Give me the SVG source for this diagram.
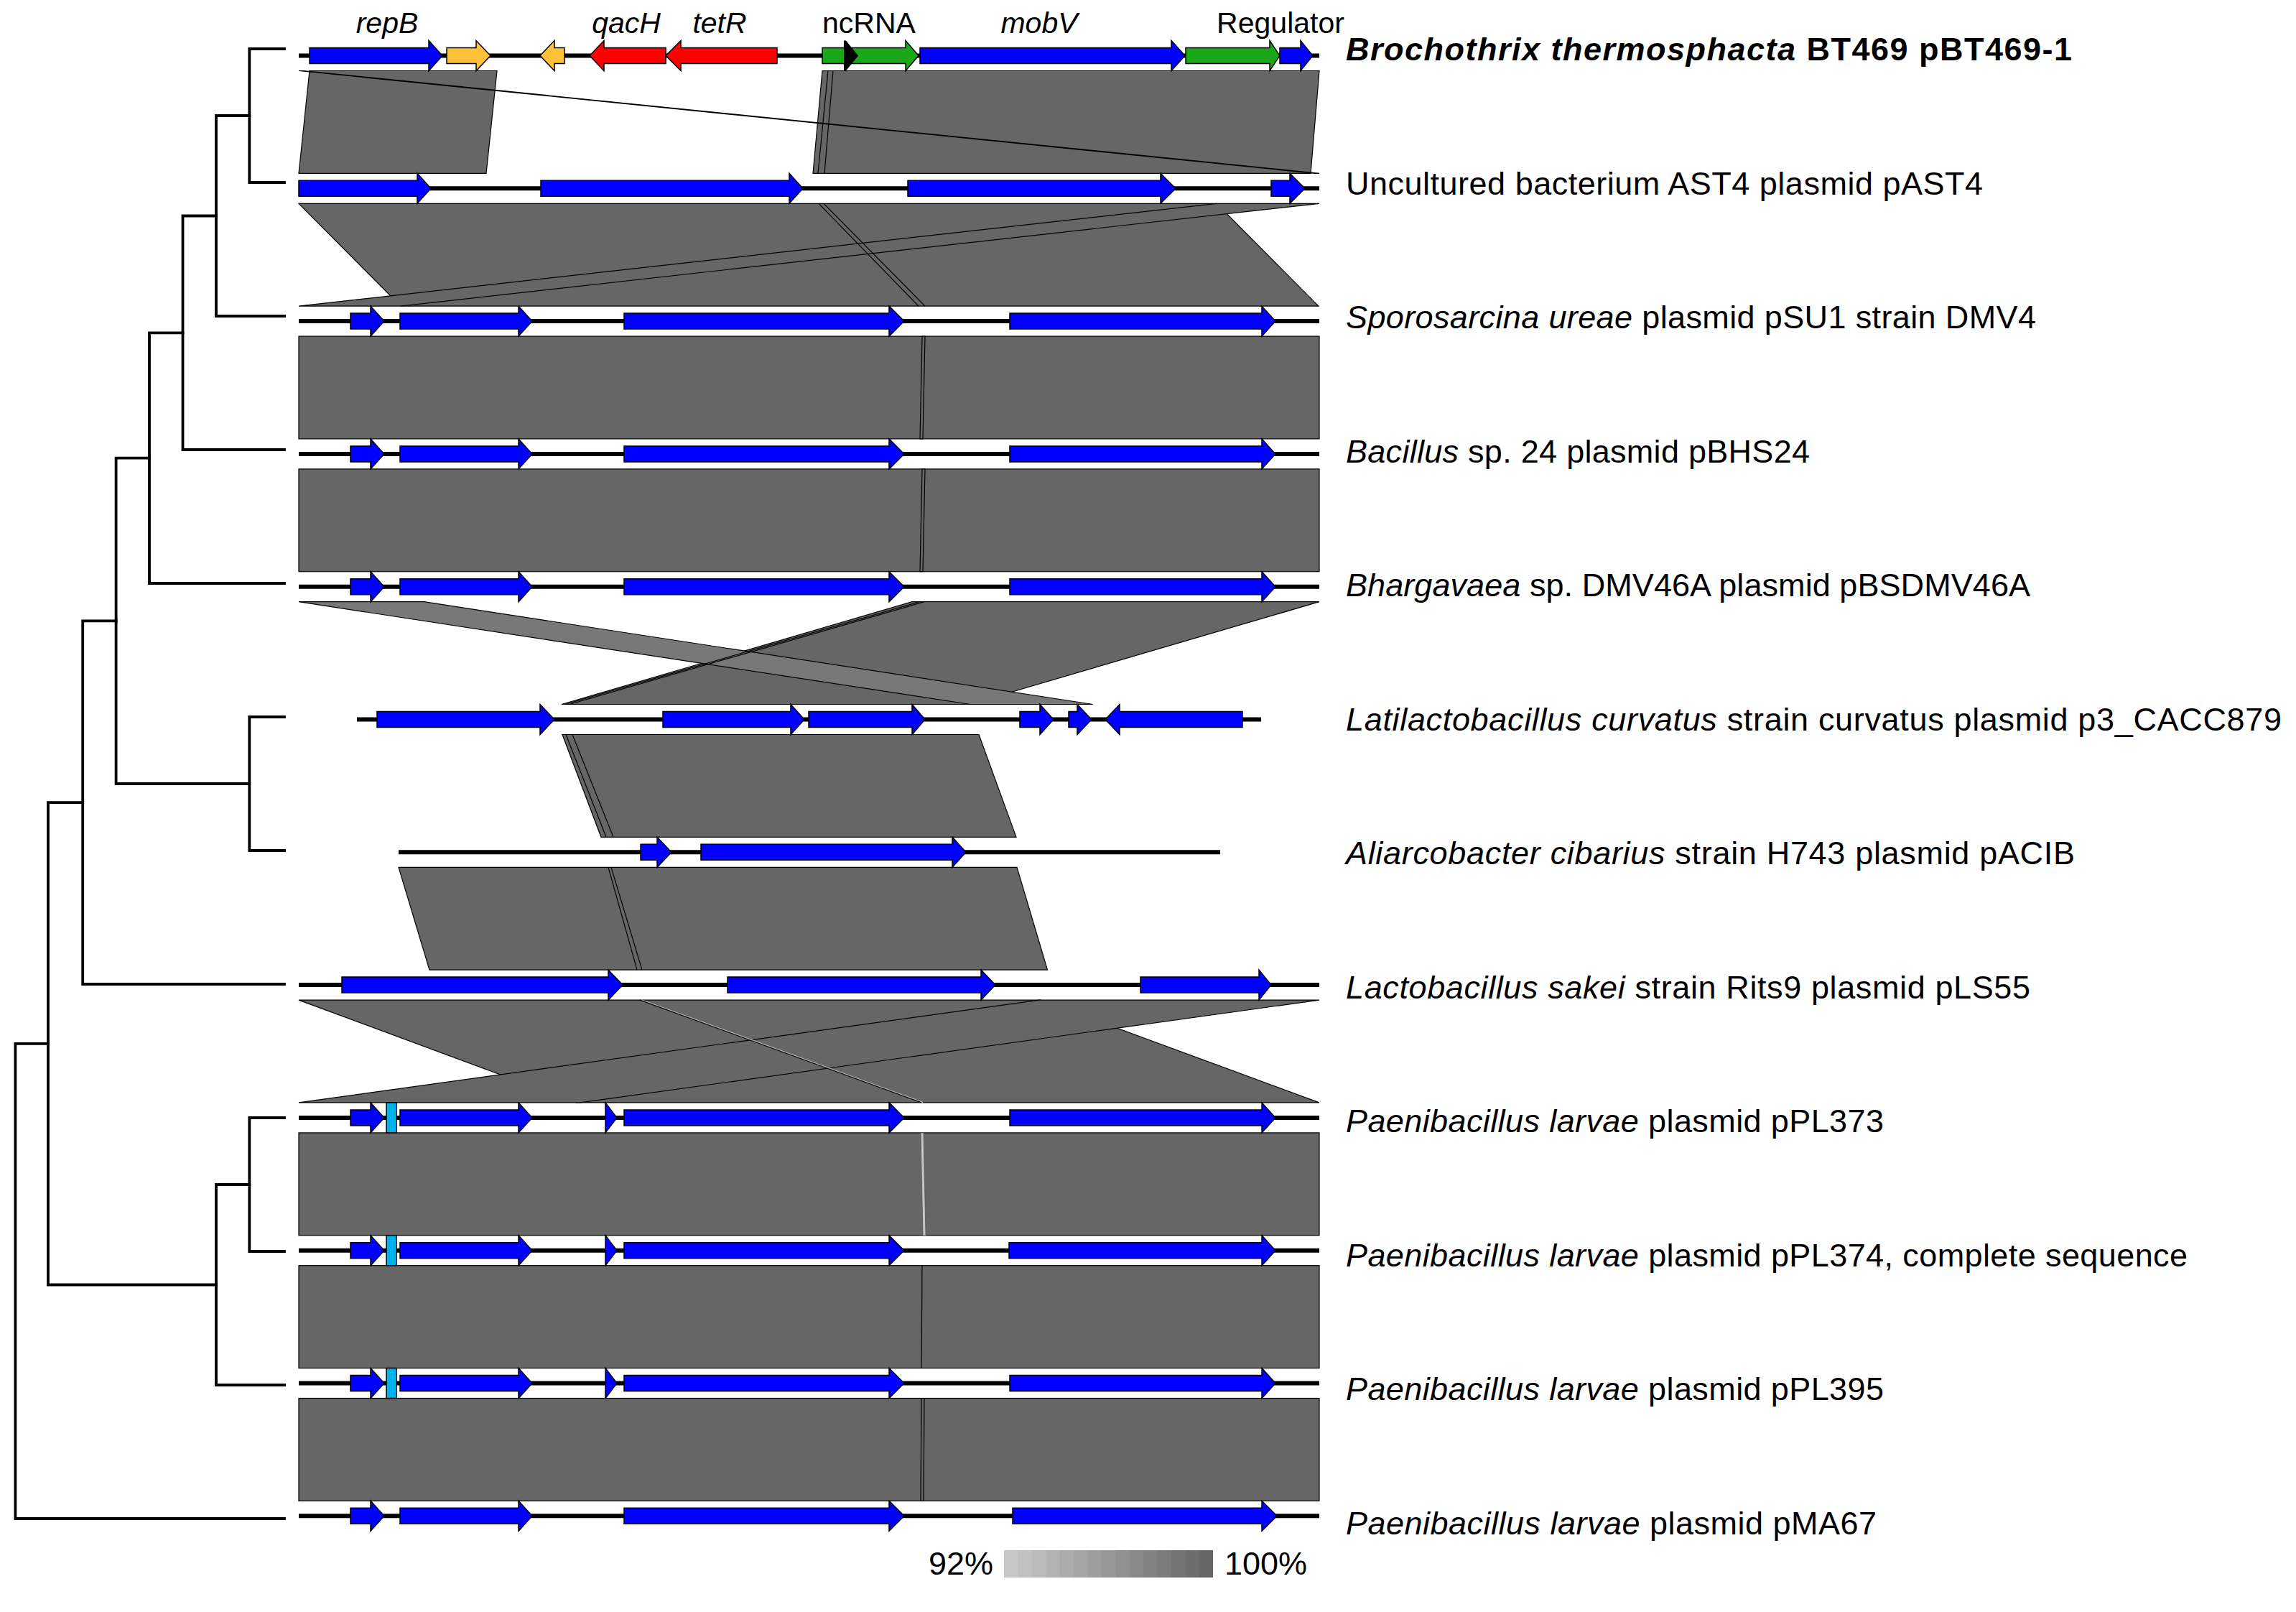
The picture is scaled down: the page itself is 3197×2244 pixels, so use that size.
<svg xmlns="http://www.w3.org/2000/svg" width="3197" height="2244" viewBox="0 0 3197 2244">
<style>
.tree{fill:none;stroke:#000;stroke-width:3.8;stroke-linecap:square}
.bb{stroke:#000;stroke-width:6}
.g{stroke:#000;stroke-width:1.5}
.b{fill:#0000FF}.o{fill:#FFC13B}.r{fill:#FF0000}.gr{fill:#1AA81A}.k{fill:#000}.c{fill:#00B2EE}
.band{fill:#666;stroke:#000;stroke-width:1.2}
.lband{fill:#787878;stroke:#000;stroke-width:1.2}
.ln{fill:none;stroke:#000;stroke-width:1.2}
.lbl{font-family:"Liberation Sans",Arial,sans-serif;font-size:45px;fill:#000}
.top{font-family:"Liberation Sans",Arial,sans-serif;font-size:41px;fill:#000;text-anchor:middle}
.it{font-style:italic}
</style>
<rect width="3197" height="2244" fill="#fff"/>

<g id="tree" class="tree">
<path d="M347.3 68V254M347.3 68H396M347.3 254H396"/>
<path d="M301 161V440M301 161H347.3M301 440H396"/>
<path d="M254.5 300.5V626M254.5 300.5H301M254.5 626H396"/>
<path d="M208 463.3V812M208 463.3H254.5M208 812H396"/>
<path d="M347.3 998V1184M347.3 998H396M347.3 1184H396"/>
<path d="M161.6 637.6V1091M161.6 637.6H208M161.6 1091H347.3"/>
<path d="M115.2 864.3V1370M115.2 864.3H161.6M115.2 1370H396"/>
<path d="M347.3 1556V1742M347.3 1556H396M347.3 1742H396"/>
<path d="M301 1649V1928M301 1649H347.3M301 1928H396"/>
<path d="M67 1117.2V1788.5M67 1117.2H115.2M67 1788.5H301"/>
<path d="M21.4 1452.8V2114M21.4 1452.8H67M21.4 2114H396"/>
</g>

<g id="connectors">
<!-- band 0-1 -->
<polygon class="band" points="431,98.5 692,98.5 677,241.3 416,241.3"/>
<polygon class="band" points="1145,98.5 1837,98.5 1825,241.3 1132,241.3"/>
<path class="ln" d="M1153 98.5L1139 241.3M1160 98.5L1148 241.3"/>
<polygon class="band" points="416,98.5 423,98.5 1837,241.3 1830,241.3"/>
<!-- band 1-2 -->
<polygon class="band" points="416,283.3 1694,283.3 1836,426.1 558,426.1"/>
<polygon class="band" points="1694,283.3 1837,283.3 558,426.1 416,426.1"/>
<path class="ln" d="M1140 283.3L1279 426.1M1147 283.3L1288 426.1"/>
<!-- band 2-3 -->
<rect class="band" x="416" y="468.1" width="1421" height="142.8"/>
<polygon class="band" points="1284,468.1 1288,468.1 1285,610.9 1281,610.9"/>
<!-- band 3-4 -->
<rect class="band" x="416" y="652.9" width="1421" height="142.8"/>
<polygon class="band" points="1284,652.9 1288,652.9 1285,795.7 1281,795.7"/>
<!-- band 4-5 -->
<polygon class="band" points="1270,837.7 1837,837.7 1350,980.5 782,980.5"/>
<polygon class="lband" points="416,837.7 590.5,837.7 1521.6,980.5 1351,980.5"/>
<path class="ln" d="M1280 837.7L787 980.5M1287 837.7L793 980.5"/>
<!-- band 5-6 -->
<polygon class="band" points="783,1022.5 1363,1022.5 1415,1165.3 837,1165.3"/>
<path class="ln" d="M788 1022.5L844 1165.3M797 1022.5L854 1165.3"/>
<!-- band 6-7 -->
<polygon class="band" points="555,1207.3 1416,1207.3 1458.5,1350.1 598,1350.1"/>
<path class="ln" d="M847 1207.3L887 1350.1M851 1207.3L894 1350.1"/>
<!-- band 7-8 -->
<polygon class="band" points="416,1392.1 1449,1392.1 1837,1534.9 802,1534.9"/>
<polygon class="band" points="1447,1392.1 1837,1392.1 808,1534.9 416,1534.9"/>
<path d="M893 1392.1L1285 1534.9" fill="none" stroke="#bbb" stroke-width="2"/>
<path class="ln" d="M891 1392.1L1283 1534.9"/>
<!-- band 8-9 -->
<rect class="band" x="416" y="1576.9" width="1421" height="142.8"/>
<polygon points="1282,1576.9 1286,1576.9 1289,1719.7 1285,1719.7" fill="#c4c4c4" stroke="#555" stroke-width="0.8"/>
<!-- band 9-10 -->
<rect class="band" x="416" y="1761.7" width="1421" height="142.8"/>
<path class="ln" d="M1284 1761.7L1283 1904.5"/>
<!-- band 10-11 -->
<rect class="band" x="416" y="1946.5" width="1421" height="142.8"/>
<polygon class="band" points="1283,1946.5 1287,1946.5 1286,2089.3 1282,2089.3"/>
</g>

<g id="track-0" transform="translate(0,77.5)">
<line class="bb" x1="416" y1="0" x2="1837" y2="0"/>
<path class="g b" d="M431 -11H597V-21L616 0L597 21V11H431Z"/>
<path class="g o" d="M622 -11H663V-21L683 0L663 21V11H622Z"/>
<path class="g o" d="M786 -11H772V-21L752 0L772 21V11H786Z"/>
<path class="g r" d="M927 -11H841V-21L821 0L841 21V11H927Z"/>
<path class="g r" d="M1082 -11H948V-21L927 0L948 21V11H1082Z"/>
<path class="g gr" d="M1145 -11H1261V-21L1279 0L1261 21V11H1145Z"/>
<path class="k" d="M1175 -21H1178L1195 0L1178 21H1175Z"/>
<path class="g b" d="M1281 -11H1631V-21L1650 0L1631 21V11H1281Z"/>
<path class="g gr" d="M1651 -11H1768V-21L1782 0L1768 21V11H1651Z"/>
<path class="g b" d="M1782 -11H1811V-21L1828 0L1811 21V11H1782Z"/>
</g>
<g id="gene-labels">
<text class="top it" x="539" y="46">repB</text>
<text class="top it" x="872" y="46">qacH</text>
<text class="top it" x="1002" y="46">tetR</text>
<text class="top" x="1210" y="46">ncRNA</text>
<text class="top it" x="1447" y="46">mobV</text>
<text class="top" x="1783" y="46">Regulator</text>
</g>

<g id="track-1" transform="translate(0,262.3)">
<line class="bb" x1="416" y1="0" x2="1837" y2="0"/>
<path class="g b" d="M416 -11H581V-21L600 0L581 21V11H416Z"/>
<path class="g b" d="M753 -11H1099V-21L1118 0L1099 21V11H753Z"/>
<path class="g b" d="M1264 -11H1616V-21L1637 0L1616 21V11H1264Z"/>
<path class="g b" d="M1770 -11H1796V-21L1817 0L1796 21V11H1770Z"/>
</g>

<g id="track-2" transform="translate(0,447.1)">
<line class="bb" x1="416" y1="0" x2="1837" y2="0"/>
<path class="g b" d="M488 -11H516V-21L535 0L516 21V11H488Z"/>
<path class="g b" d="M557 -11H722V-21L741 0L722 21V11H557Z"/>
<path class="g b" d="M869 -11H1238V-21L1259 0L1238 21V11H869Z"/>
<path class="g b" d="M1406 -11H1757V-21L1776 0L1757 21V11H1406Z"/>
</g>
<g id="track-3" transform="translate(0,631.9)">
<line class="bb" x1="416" y1="0" x2="1837" y2="0"/>
<path class="g b" d="M488 -11H516V-21L535 0L516 21V11H488Z"/>
<path class="g b" d="M557 -11H722V-21L741 0L722 21V11H557Z"/>
<path class="g b" d="M869 -11H1238V-21L1259 0L1238 21V11H869Z"/>
<path class="g b" d="M1406 -11H1757V-21L1776 0L1757 21V11H1406Z"/>
</g>
<g id="track-4" transform="translate(0,816.7)">
<line class="bb" x1="416" y1="0" x2="1837" y2="0"/>
<path class="g b" d="M488 -11H516V-21L535 0L516 21V11H488Z"/>
<path class="g b" d="M557 -11H722V-21L741 0L722 21V11H557Z"/>
<path class="g b" d="M869 -11H1238V-21L1259 0L1238 21V11H869Z"/>
<path class="g b" d="M1406 -11H1757V-21L1776 0L1757 21V11H1406Z"/>
</g>
<g id="track-5" transform="translate(0,1001.5)">
<line class="bb" x1="497" y1="0" x2="1756" y2="0"/>
<path class="g b" d="M525 -11H752V-21L772 0L752 21V11H525Z"/>
<path class="g b" d="M923 -11H1101V-21L1120 0L1101 21V11H923Z"/>
<path class="g b" d="M1126 -11H1270V-21L1288 0L1270 21V11H1126Z"/>
<path class="g b" d="M1420 -11H1448V-21L1467 0L1448 21V11H1420Z"/>
<path class="g b" d="M1488 -11H1500V-21L1520 0L1500 21V11H1488Z"/>
<path class="g b" d="M1730 -11H1559V-21L1539 0L1559 21V11H1730Z"/>
</g>
<g id="track-6" transform="translate(0,1186.3)">
<line class="bb" x1="555" y1="0" x2="1699" y2="0"/>
<path class="g b" d="M892 -11H915V-21L935 0L915 21V11H892Z"/>
<path class="g b" d="M976 -11H1326V-21L1345 0L1326 21V11H976Z"/>
</g>
<g id="track-7" transform="translate(0,1371.1)">
<line class="bb" x1="416" y1="0" x2="1837" y2="0"/>
<path class="g b" d="M476 -11H847V-21L867 0L847 21V11H476Z"/>
<path class="g b" d="M1013 -11H1366V-21L1386 0L1366 21V11H1013Z"/>
<path class="g b" d="M1588 -11H1753V-21L1770 0L1753 21V11H1588Z"/>
</g>
<g id="track-8" transform="translate(0,1555.9)">
<line class="bb" x1="416" y1="0" x2="1837" y2="0"/>
<path class="g b" d="M488 -11H516V-21L535 0L516 21V11H488Z"/>
<rect class="g c" x="538" y="-21" width="14" height="42"/>
<path class="g b" d="M557 -11H722V-21L741 0L722 21V11H557Z"/>
<path class="g b" d="M843 -21L859 0L843 21Z"/>
<path class="g b" d="M869 -11H1238V-21L1259 0L1238 21V11H869Z"/>
<path class="g b" d="M1406 -11H1757V-21L1776 0L1757 21V11H1406Z"/>
</g>
<g id="track-9" transform="translate(0,1740.7)">
<line class="bb" x1="416" y1="0" x2="1837" y2="0"/>
<path class="g b" d="M488 -11H516V-21L535 0L516 21V11H488Z"/>
<rect class="g c" x="538" y="-21" width="14" height="42"/>
<path class="g b" d="M557 -11H722V-21L741 0L722 21V11H557Z"/>
<path class="g b" d="M843 -21L859 0L843 21Z"/>
<path class="g b" d="M869 -11H1238V-21L1259 0L1238 21V11H869Z"/>
<path class="g b" d="M1405 -11H1757V-21L1776 0L1757 21V11H1405Z"/>
</g>
<g id="track-10" transform="translate(0,1925.5)">
<line class="bb" x1="416" y1="0" x2="1837" y2="0"/>
<path class="g b" d="M488 -11H516V-21L535 0L516 21V11H488Z"/>
<rect class="g c" x="538" y="-21" width="14" height="42"/>
<path class="g b" d="M557 -11H722V-21L741 0L722 21V11H557Z"/>
<path class="g b" d="M843 -21L859 0L843 21Z"/>
<path class="g b" d="M869 -11H1238V-21L1259 0L1238 21V11H869Z"/>
<path class="g b" d="M1406 -11H1757V-21L1776 0L1757 21V11H1406Z"/>
</g>
<g id="track-11" transform="translate(0,2110.3)">
<line class="bb" x1="416" y1="0" x2="1837" y2="0"/>
<path class="g b" d="M488 -11H516V-21L535 0L516 21V11H488Z"/>
<path class="g b" d="M557 -11H722V-21L741 0L722 21V11H557Z"/>
<path class="g b" d="M869 -11H1238V-21L1259 0L1238 21V11H869Z"/>
<path class="g b" d="M1410 -11H1757V-21L1778 0L1757 21V11H1410Z"/>
</g>

<g id="labels" class="lbl">
<text x="1874" y="84" font-weight="bold" textLength="1011" lengthAdjust="spacing"><tspan class="it">Brochothrix thermosphacta</tspan> BT469 pBT469-1</text>
<text x="1874" y="270.5" textLength="887" lengthAdjust="spacing">Uncultured bacterium AST4 plasmid pAST4</text>
<text x="1874" y="457" textLength="961" lengthAdjust="spacing"><tspan class="it">Sporosarcina ureae</tspan> plasmid pSU1 strain DMV4</text>
<text x="1874" y="643.5" textLength="646" lengthAdjust="spacing"><tspan class="it">Bacillus</tspan> sp. 24 plasmid pBHS24</text>
<text x="1874" y="830" textLength="953" lengthAdjust="spacing"><tspan class="it">Bhargavaea</tspan> sp. DMV46A plasmid pBSDMV46A</text>
<text x="1874" y="1016.5" textLength="1303" lengthAdjust="spacing"><tspan class="it">Latilactobacillus curvatus</tspan> strain curvatus plasmid p3_CACC879</text>
<text x="1874" y="1203" textLength="1015" lengthAdjust="spacing"><tspan class="it">Aliarcobacter cibarius</tspan> strain H743 plasmid pACIB</text>
<text x="1874" y="1389.5" textLength="953" lengthAdjust="spacing"><tspan class="it">Lactobacillus sakei</tspan> strain Rits9 plasmid pLS55</text>
<text x="1874" y="1576" textLength="749" lengthAdjust="spacing"><tspan class="it">Paenibacillus larvae</tspan> plasmid pPL373</text>
<text x="1874" y="1762.5" textLength="1172" lengthAdjust="spacing"><tspan class="it">Paenibacillus larvae</tspan> plasmid pPL374, complete sequence</text>
<text x="1874" y="1949" textLength="749" lengthAdjust="spacing"><tspan class="it">Paenibacillus larvae</tspan> plasmid pPL395</text>
<text x="1874" y="2135.5" textLength="739" lengthAdjust="spacing"><tspan class="it">Paenibacillus larvae</tspan> plasmid pMA67</text>
</g>

<g id="legend">
<rect x="1398" y="2158" width="20" height="38" fill="#c8c8c8"/>
<rect x="1417.4" y="2158" width="20" height="38" fill="#c1c1c1"/>
<rect x="1436.8" y="2158" width="20" height="38" fill="#bababa"/>
<rect x="1456.2" y="2158" width="20" height="38" fill="#b3b3b3"/>
<rect x="1475.6" y="2158" width="20" height="38" fill="#acacac"/>
<rect x="1495" y="2158" width="20" height="38" fill="#a5a5a5"/>
<rect x="1514.4" y="2158" width="20" height="38" fill="#9e9e9e"/>
<rect x="1533.8" y="2158" width="20" height="38" fill="#979797"/>
<rect x="1553.2" y="2158" width="20" height="38" fill="#909090"/>
<rect x="1572.6" y="2158" width="20" height="38" fill="#898989"/>
<rect x="1592" y="2158" width="20" height="38" fill="#828282"/>
<rect x="1611.4" y="2158" width="20" height="38" fill="#7b7b7b"/>
<rect x="1630.8" y="2158" width="20" height="38" fill="#747474"/>
<rect x="1650.2" y="2158" width="20" height="38" fill="#6d6d6d"/>
<rect x="1669.6" y="2158" width="19.4" height="38" fill="#666666"/>
<text class="lbl" x="1383" y="2192" font-size="42" text-anchor="end">92%</text>
<text class="lbl" x="1705" y="2192" font-size="42">100%</text>
</g>
</svg>
